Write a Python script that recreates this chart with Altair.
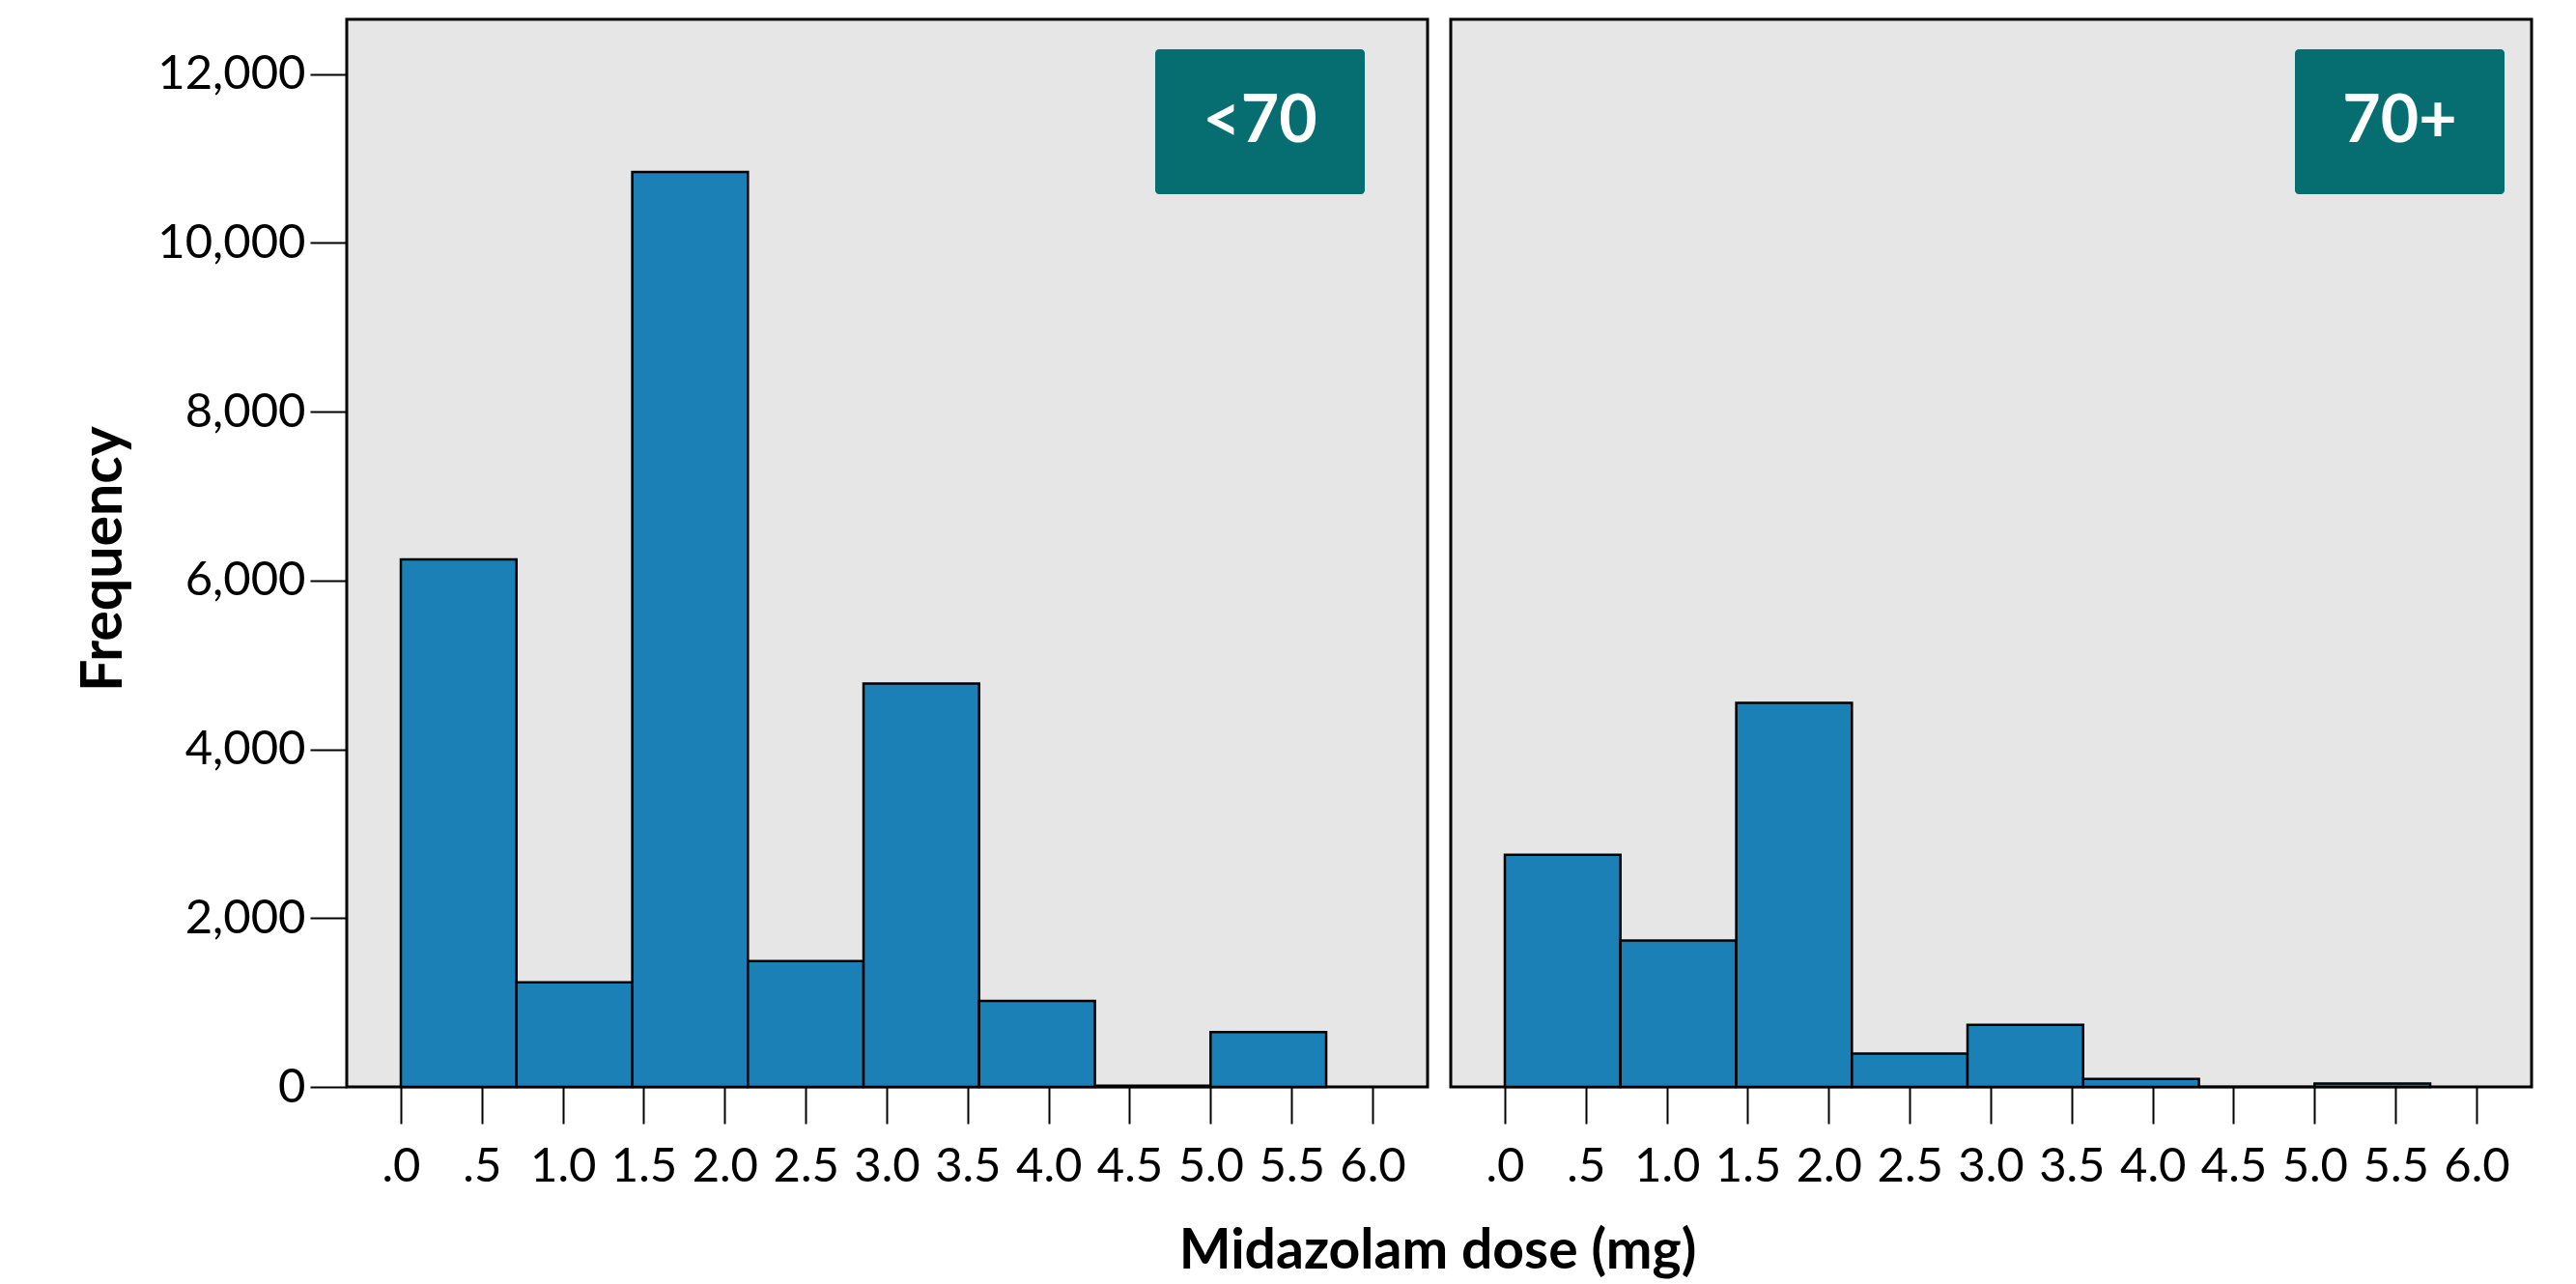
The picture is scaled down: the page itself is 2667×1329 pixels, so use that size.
import altair as alt
import pandas as pd

# ---- data ----
bin_start = [0.0, 0.714, 1.429, 2.143, 2.857, 3.571, 4.286, 5.0]
bin_end = [0.714, 1.429, 2.143, 2.857, 3.571, 4.286, 5.0, 5.714]
freq_under70 = [6250, 1240, 10840, 1490, 4780, 1020, 15, 650]
freq_70plus = [2750, 1735, 4550, 395, 735, 95, 0, 40]
group_labels = ["<70", "70+"]
x_ticks = [0.0, 0.5, 1.0, 1.5, 2.0, 2.5, 3.0, 3.5, 4.0, 4.5, 5.0, 5.5, 6.0]
y_ticks = [0, 2000, 4000, 6000, 8000, 10000, 12000]

FONT = "Lato"
BAR = "#1a80b5"
TEAL = "#066e71"
BG = "#e6e6e6"
W, H = 1119, 1105

x_label_expr = ("datum.value < 1 ? replace(format(datum.value, '.1f'), '0.', '.') "
                ": format(datum.value, '.1f')")


def panel(freqs, label, first, box_x0, box_x1):
    df = pd.DataFrame({"start": bin_start, "end": bin_end, "freq": freqs})
    xscale = alt.Scale(domain=[-0.334, 6.34], nice=False, zero=False)
    yscale = alt.Scale(domain=[0, 12650], nice=False)

    xaxis_kw = dict(
        values=x_ticks, labelExpr=x_label_expr, domain=False, grid=False,
        ticks=True, tickSize=38, tickWidth=2, tickColor="black",
        labelFont=FONT, labelFontSize=49, labelColor="black", labelPadding=20,
        labelOverlap=False, labelFlush=False,
    )
    if first:
        xaxis_kw.update(
            title="Midazolam dose (mg)", titleFont=FONT, titleFontSize=57,
            titleFontWeight="bold", titleColor="black", titleX=1129, titleY=170,
            titleAlign="center", titleBaseline="middle",
        )
    else:
        xaxis_kw.update(title=None)

    if first:
        yaxis = alt.Axis(
            values=y_ticks, labelExpr="format(datum.value, ',.0f')",
            domain=False, grid=False,
            tickSize=38, tickWidth=2, tickColor="black",
            labelFont=FONT, labelFontSize=49, labelColor="black", labelPadding=5,
            title="Frequency", titleFont=FONT, titleFontSize=59,
            titleFontWeight="bold", titleColor="black", titleAngle=270,
            titleX=-252, titleY=558, titleAlign="center", titleBaseline="middle",
        )
    else:
        yaxis = None

    bars = alt.Chart(df).mark_rect(
        color=BAR, stroke="black", strokeWidth=2.5, opacity=1
    ).encode(
        x=alt.X("start:Q", scale=xscale, axis=alt.Axis(**xaxis_kw)),
        x2="end:Q",
        y=alt.Y("freq:Q", scale=yscale, axis=yaxis),
        y2=alt.datum(0),
    )

    ldf = pd.DataFrame({"label": [label]})
    box = alt.Chart(ldf).mark_rect(color=TEAL, cornerRadius=4).encode(
        x=alt.value(box_x0), x2=alt.value(box_x1),
        y=alt.value(31), y2=alt.value(181),
    )
    txt = alt.Chart(ldf).mark_text(
        color="white", font=FONT, fontWeight="bold", fontSize=68,
        align="center", baseline="middle",
    ).encode(
        x=alt.value((box_x0 + box_x1) / 2), y=alt.value(107), text="label:N"
    )
    return alt.layer(bars, box, txt).properties(width=W, height=H)


left = panel(freq_under70, group_labels[0], True, 837, 1054)
right = panel(freq_70plus, group_labels[1], False, 874, 1091)

chart = alt.hconcat(left, right, spacing=24, bounds="flush").properties(
    padding={"left": 68, "top": 10, "right": 5, "bottom": 5},
    background="white",
).configure_view(
    fill=BG, stroke="black", strokeWidth=3
)

chart.save("out.html", embed_options={"renderer": "svg", "actions": False})
